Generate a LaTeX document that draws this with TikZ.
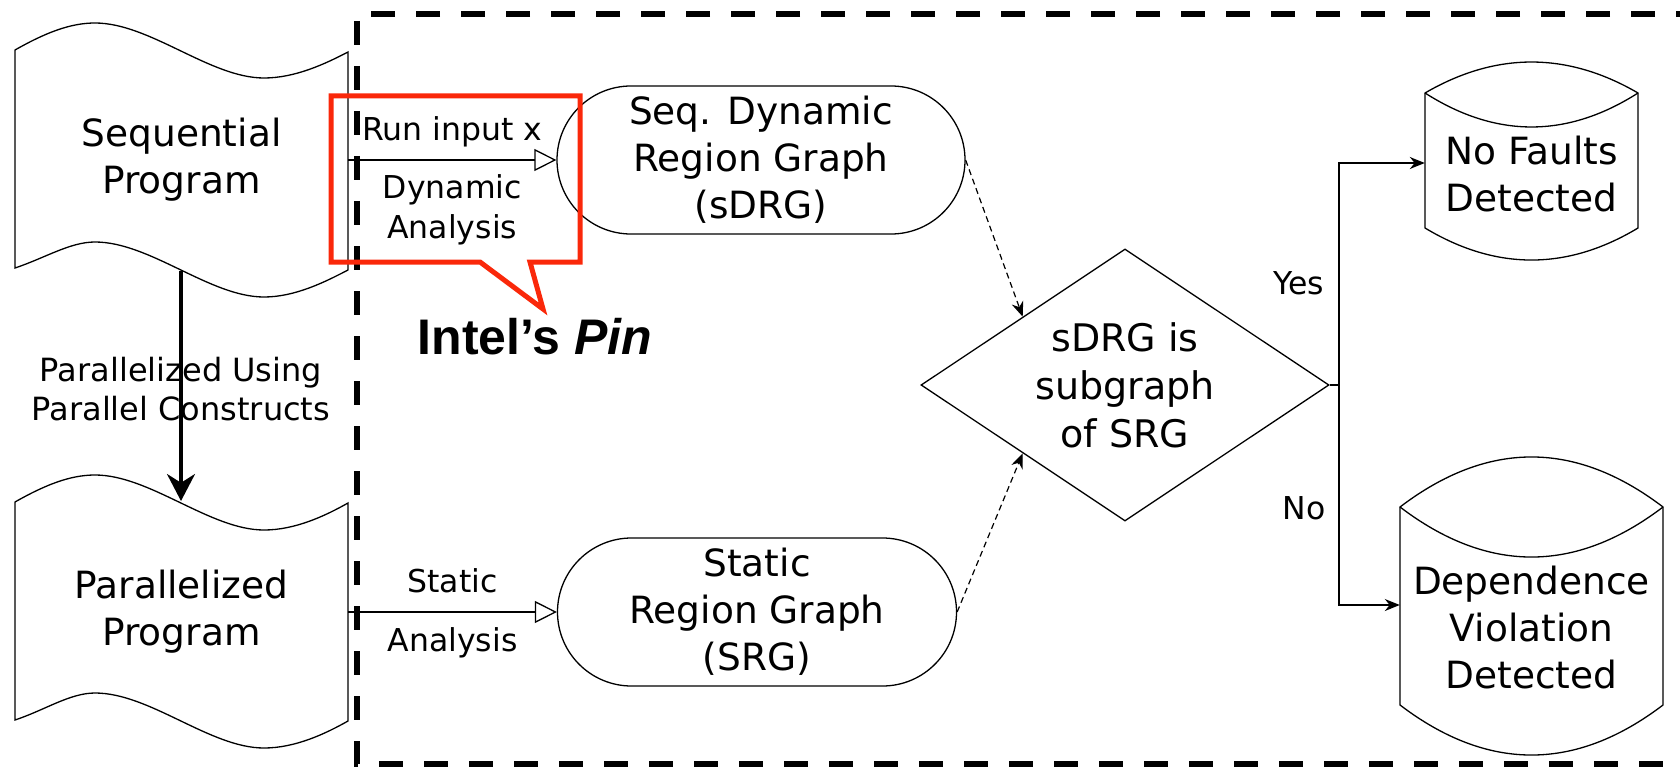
\documentclass[tikz,border=0pt]{standalone}
\usepackage{fontspec}
\setmainfont{DejaVu Sans}
\newfontfamily\pinfont{Liberation Sans}
\usetikzlibrary{shapes.geometric,shapes.misc,arrows.meta}
\definecolor{callred}{RGB}{250,40,10}

\begin{document}
\begin{tikzpicture}[x=1pt,y=-1pt]
    \tikzstyle{every node}=[font=\fontsize{37.5}{47}\selectfont, align=center, inner sep=0pt]
    \tikzstyle{doc}=[minimum width=333pt, minimum height=218pt]
    \tikzstyle{graphbox}=[rounded rectangle, draw, line width=1.3pt, minimum height=148pt]
    \tikzstyle{store}=[minimum width=213pt]
    \tikzstyle{lbl}=[font=\fontsize{31.5}{40}\selectfont, inner sep=2pt]
    \tikzstyle{outline}=[line width=1.3pt]
    \tikzstyle{feed}=[line width=1.3pt, -{Triangle[open, length=22pt, width=22pt]}]
    \tikzstyle{check}=[line width=1.2pt, dash pattern=on 6pt off 4pt, -{Stealth[length=15pt, width=12pt]}]
    \tikzstyle{branch}=[line width=1.3pt, -{Stealth[length=15pt, width=12pt]}]
    \tikzstyle{fence}=[line width=6pt, dash pattern=on 24pt off 21pt]

    \useasboundingbox (0,0) rectangle (1680,770);

    \draw[fence] (1700,14) -- (357,14) -- (357,764) -- (1700,764);

    \node[doc] (seq) at (181.5,160) {Sequential\\Program};
    \node[doc] (par) at (181.5,612) {Parallelized\\Program};
    \node[graphbox, minimum width=408pt] (sdrg) at (761,160) {Seq. Dynamic\\Region Graph\\(sDRG)};
    \node[graphbox, minimum width=399pt] (srg) at (757,612) {Static\\Region Graph\\(SRG)};
    \node[diamond, draw, line width=1.3pt, aspect=1.5, minimum width=408pt, minimum height=272pt, font=\fontsize{38}{48}\selectfont] (cond) at (1125,385) {sDRG is\\subgraph\\of SRG};
    \node[store] (nofault) at (1531.5,174) {No Faults\\Detected};
    \node[store, minimum width=263pt] (depviol) at (1531.5,628) {Dependence\\Violation\\Detected};

    \draw[outline] (15,50) .. controls (45,33) and (70,23) .. (95,23) .. controls (150,23) and (210,78) .. (264,78) .. controls (295,78) and (325,64) .. (348,52) -- (348,270) .. controls (325,282) and (295,297) .. (264,297) .. controls (210,297) and (150,242) .. (95,242) .. controls (70,242) and (45,258) .. (15,268) -- cycle;
    \draw[outline] (15,502) .. controls (45,485) and (70,475) .. (95,475) .. controls (150,475) and (210,530) .. (264,530) .. controls (295,530) and (325,516) .. (348,503) -- (348,721) .. controls (325,734) and (295,748) .. (264,748) .. controls (210,748) and (150,693) .. (95,693) .. controls (70,693) and (45,710) .. (15,720) -- cycle;

    \draw[outline] (1425,93) .. controls (1496,51.7) and (1567,51.7) .. (1638,93) -- (1638,228) .. controls (1567,270.7) and (1496,270.7) .. (1425,228) -- cycle;
    \draw[outline] (1425,93) .. controls (1496,138.3) and (1567,138.3) .. (1638,93);
    \draw[outline] (1400,507) .. controls (1487.7,440.3) and (1575.3,440.3) .. (1663,507) -- (1663,705) .. controls (1575.3,771.7) and (1487.7,771.7) .. (1400,705) -- cycle;
    \draw[outline] (1400,507) .. controls (1487.7,573.7) and (1575.3,573.7) .. (1663,507);

    \coordinate (seqbot) at (181,271);
    \coordinate (partop) at (181,501);
    \coordinate (split) at (1339,385);

    \draw[line width=3.5pt, -{Stealth[length=27pt, width=28pt]}] (seqbot) -- node[lbl, yshift=-3pt, font=\fontsize{32}{39}\selectfont]{Parallelized Using\\Parallel Constructs} (partop);
    \draw[feed] (seq.east) -- node[lbl, above=10pt]{Run input x} node[lbl, below=12pt]{Dynamic\\Analysis} (sdrg.west);
    \draw[feed] (par.east) -- node[lbl, above=16pt]{Static} node[lbl, below=13pt]{Analysis} (srg.west);
    \draw[check] (sdrg.east) -- (cond.north west);
    \draw[check] (srg.east) -- (cond.south west);
    \draw[outline] (cond.east) -- (split);
    \draw[branch] (split) |- node[lbl, pos=0.23, left=12pt]{Yes} ([yshift=11pt]nofault.west);
    \draw[branch] (split) |- node[lbl, pos=0.28, left=11pt]{No} ([yshift=23pt]depviol.west);

    \draw[callred, line width=5pt] (331,96) -- (580,96) -- (580,262) -- (530,262) -- (543,309) -- (480,262) -- (331,262) -- cycle;
    \node[font=\pinfont\bfseries\fontsize{50}{52}\selectfont] (pin) at (535,337) {Intel’s \itshape Pin};
\end{tikzpicture}
\end{document}
